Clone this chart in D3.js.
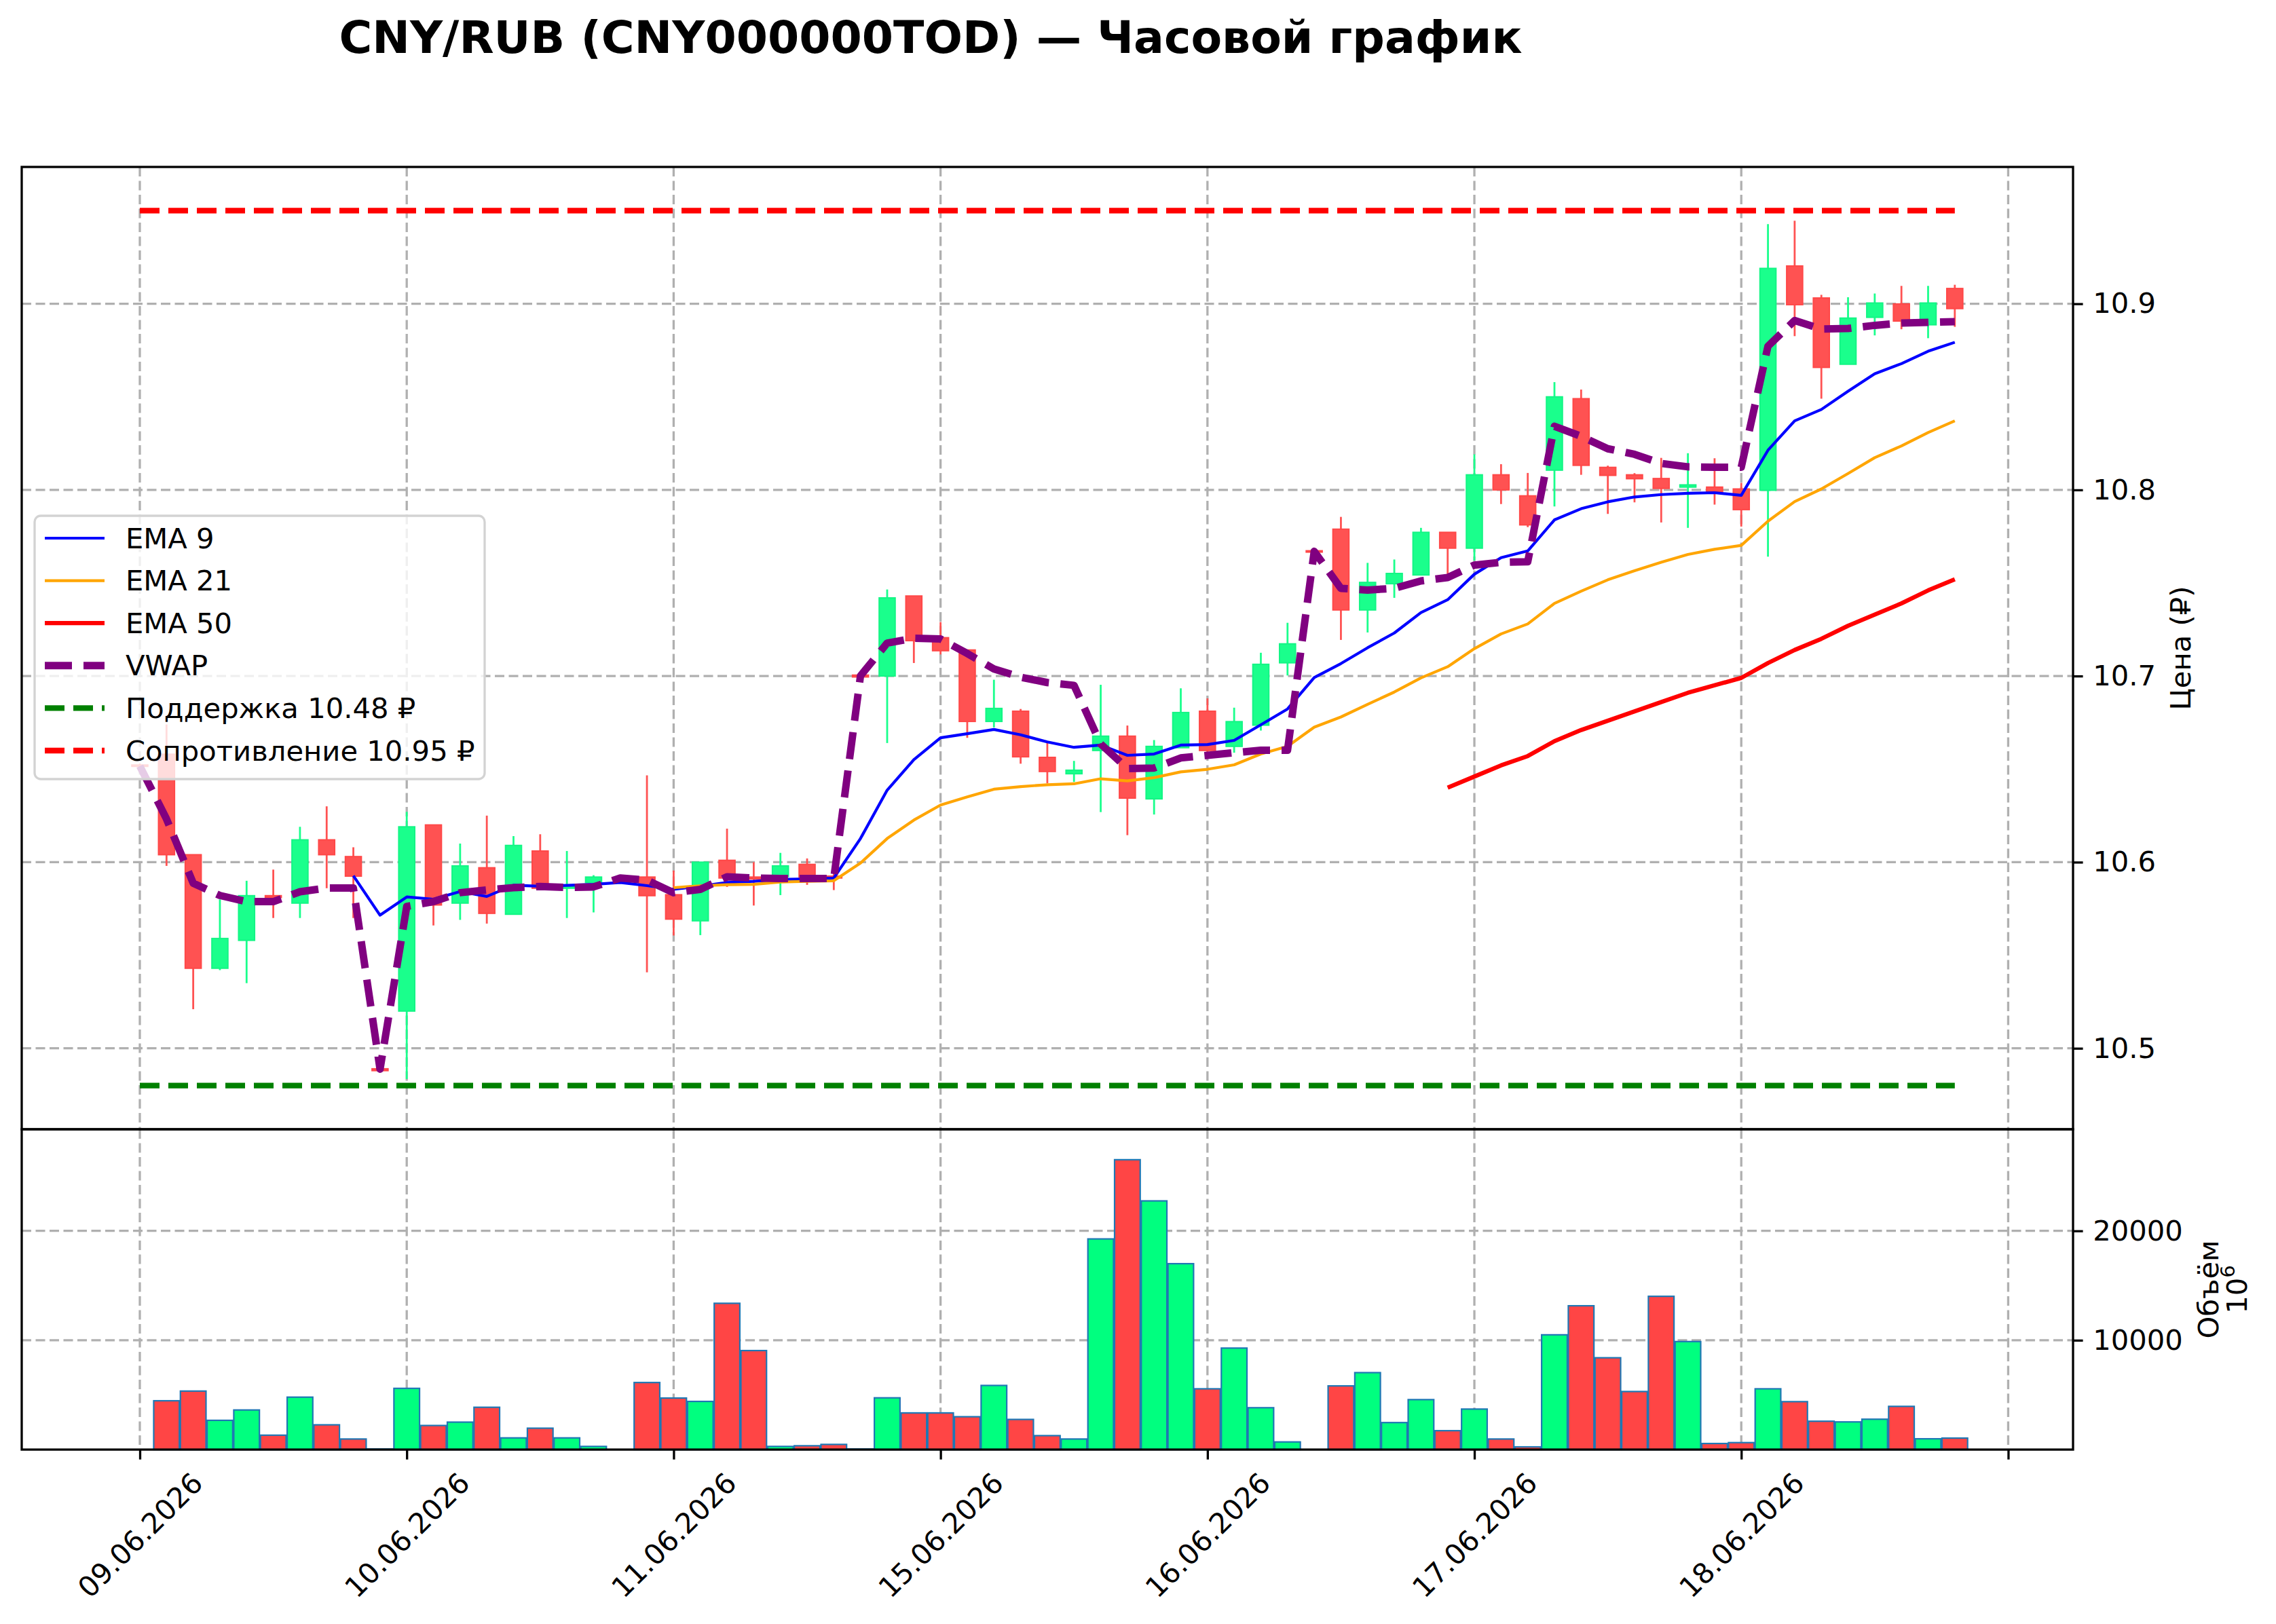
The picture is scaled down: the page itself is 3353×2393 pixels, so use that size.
<!DOCTYPE html>
<html>
<head>
<meta charset="utf-8">
<script src="https://cdn.jsdelivr.net/npm/d3@7"></script>
<style>
  body { margin: 0; background: #fff; }
  svg { display: block; font-family: "DejaVu Sans", sans-serif; }
</style>
</head>
<body>
<div id="chart"></div>
<script>
(function () {

  // hourly candles, index 0..68
  var opens = [10.6522, 10.658, 10.604, 10.543, 10.558, 10.582, 10.578, 10.612, 10.603, 10.489,
    10.520, 10.620, 10.578, 10.597, 10.572, 10.606, 10.586, 10.589, 10.5918, 10.592,
    10.5825, 10.5685, 10.601, 10.592, 10.5923, 10.5988, 10.5925, 10.7005, 10.700, 10.743,
    10.7206, 10.714, 10.6756, 10.6811, 10.6563, 10.6475, 10.660, 10.6677, 10.634, 10.6615,
    10.6811, 10.6622, 10.6736, 10.7071, 10.7673, 10.7789, 10.7355, 10.7496, 10.7543, 10.7772,
    10.7687, 10.8081, 10.7968, 10.8106, 10.849, 10.8121, 10.8081, 10.8061, 10.8015, 10.8015,
    10.8005, 10.7998, 10.9203, 10.9031, 10.8675, 10.8927, 10.8999, 10.8887, 10.9082]

  var highs = [10.653, 10.674, 10.604, 10.580, 10.590, 10.596, 10.619, 10.630, 10.608, 10.489,
    10.627, 10.620, 10.610, 10.625, 10.614, 10.615, 10.606, 10.593, 10.592, 10.6466,
    10.5955, 10.600, 10.618, 10.600, 10.605, 10.602, 10.602, 10.701, 10.7465, 10.743,
    10.729, 10.714, 10.698, 10.6823, 10.6643, 10.6544, 10.6953, 10.6734, 10.6656, 10.6934,
    10.688, 10.683, 10.7125, 10.7286, 10.768, 10.7855, 10.7608, 10.7626, 10.7796, 10.7772,
    10.8191, 10.8138, 10.8091, 10.8579, 10.8539, 10.813, 10.809, 10.8172, 10.8197, 10.817,
    10.8038, 10.9428, 10.9446, 10.9048, 10.9035, 10.9055, 10.9096, 10.9096, 10.9102]

  var lows = [10.651, 10.598, 10.521, 10.542, 10.535, 10.570, 10.570, 10.586, 10.570, 10.487,
    10.4835, 10.566, 10.569, 10.567, 10.572, 10.5857, 10.570, 10.573, 10.591, 10.5408,
    10.5606, 10.5608, 10.5867, 10.5767, 10.5823, 10.5878, 10.585, 10.699, 10.664, 10.707,
    10.7116, 10.6668, 10.6724, 10.6529, 10.6424, 10.6431, 10.6269, 10.6145, 10.6256, 10.6615,
    10.659, 10.6588, 10.6707, 10.7003, 10.766, 10.7194, 10.7234, 10.742, 10.754, 10.7547,
    10.762, 10.7924, 10.780, 10.7911, 10.8081, 10.7871, 10.7933, 10.7825, 10.7796, 10.7921,
    10.7803, 10.7641, 10.8826, 10.849, 10.8675, 10.883, 10.8863, 10.8815, 10.8876]

  var closes = [10.6518, 10.604, 10.543, 10.559, 10.582, 10.581, 10.612, 10.604, 10.5925, 10.488,
    10.619, 10.577, 10.598, 10.5725, 10.609, 10.586, 10.587, 10.592, 10.5912, 10.582,
    10.5694, 10.600, 10.5915, 10.591, 10.598, 10.592, 10.5915, 10.6995, 10.742, 10.719,
    10.7136, 10.6756, 10.6826, 10.6566, 10.6487, 10.6494, 10.6677, 10.6344, 10.6622, 10.6804,
    10.660, 10.6755, 10.7063, 10.7173, 10.7667, 10.7355, 10.7503, 10.7551, 10.7772, 10.7687,
    10.8081, 10.800, 10.7812, 10.850, 10.8132, 10.8078, 10.806, 10.8008, 10.8027, 10.799,
    10.7894, 10.919, 10.8995, 10.8658, 10.8923, 10.9004, 10.8907, 10.9004, 10.8974]

  // volume, millions
  var volumes = [0, 4466, 5351, 2675, 3622, 1317, 4795, 2264, 967, 60,
    5598, 2202, 2511, 3869, 1070, 1955, 1070, 288, 0, 6133,
    4713, 4404, 13377, 9055, 288, 350, 473, 60, 4733, 3354,
    3354, 3005, 5865, 2758, 1276, 967, 19263, 26507, 22741, 17000,
    5557, 9282, 3828, 700, 0, 5824, 7038, 2470, 4569, 1729,
    3704, 967, 247, 10496, 13151, 8397, 5310, 14015, 9878, 556,
    638, 5557, 4384, 2593, 2531, 2778, 3951, 988, 1050]

  var vwap = [10.6516, 10.6232, 10.5887, 10.5821, 10.5788, 10.5788, 10.5841, 10.5861, 10.5861, 10.4888,
    10.5762, 10.5788, 10.5836, 10.5851, 10.5863, 10.5869, 10.5864, 10.5867, 10.5915, 10.5903,
    10.5836, 10.5854, 10.5921, 10.5915, 10.5912, 10.5912, 10.5912, 10.7001, 10.7177, 10.7203,
    10.7199, 10.7121, 10.7038, 10.6994, 10.6965, 10.695, 10.6635, 10.6503, 10.6506, 10.656,
    10.6574, 10.6588, 10.6601, 10.6601, 10.767, 10.7471, 10.7462, 10.7471, 10.7511, 10.7529,
    10.7596, 10.7611, 10.7614, 10.8342, 10.8288, 10.8221, 10.8191, 10.8142, 10.8124, 10.8122,
    10.8122, 10.8772, 10.891, 10.8864, 10.8867, 10.8884, 10.8896, 10.89, 10.8904]

  // EMA 9 starts at index 8
  var ema9Start = 8
  var ema9 = [10.5927, 10.5715, 10.5813, 10.5801, 10.5842, 10.5816, 10.5876, 10.5871, 10.5875, 10.5881,
    10.5891, 10.5874, 10.5854, 10.5871, 10.5891, 10.5897, 10.5907, 10.591, 10.5915, 10.6127,
    10.6387, 10.6551, 10.6668, 10.669, 10.6713, 10.6684, 10.6646, 10.6617, 10.6629, 10.6574,
    10.6581, 10.6629, 10.6632, 10.6654, 10.6738, 10.6823, 10.6992, 10.7067, 10.7152, 10.7231,
    10.7341, 10.741, 10.7547, 10.7636, 10.7672, 10.7839, 10.7899, 10.7936, 10.7962, 10.7975,
    10.7982, 10.7985, 10.7971, 10.8213, 10.8371, 10.8432, 10.853, 10.8624, 10.8678, 10.8745,
    10.8793]

  // EMA 21 starts at index 20
  var ema21Start = 20
  var ema21 = [10.5863, 10.5873, 10.5879, 10.5881, 10.5893, 10.5897, 10.590, 10.5995, 10.6127, 10.6226,
    10.6307, 10.6351, 10.6392, 10.6406, 10.6416, 10.6421, 10.6448, 10.6437, 10.6454, 10.6485,
    10.6499, 10.6523, 10.6581, 10.6622, 10.6725, 10.678, 10.6848, 10.6914, 10.699, 10.705,
    10.7147, 10.7226, 10.728, 10.739, 10.7456, 10.7517, 10.7566, 10.7611, 10.7653, 10.7681,
    10.7702, 10.7832, 10.7937, 10.8005, 10.8088, 10.8173, 10.8236, 10.8308, 10.8371]

  // EMA 50 starts at index 49
  var ema50Start = 49
  var ema50 = [10.640, 10.646, 10.652, 10.657, 10.665, 10.671, 10.676, 10.681, 10.686, 10.691,
    10.695, 10.699, 10.707, 10.714, 10.720, 10.727, 10.733, 10.739, 10.746, 10.752]

  var support = 10.48
  var resistance = 10.95

  var xTickPos = [0, 10, 20, 30, 40, 50, 60, 70]
  var xTickLabels = ["09.06.2026", "10.06.2026", "11.06.2026", "15.06.2026",
    "16.06.2026", "17.06.2026", "18.06.2026", ""]
  var priceTicks = [10.5, 10.6, 10.7, 10.8, 10.9]
  var volumeTicks = [10000, 20000]

  // layout in pixels (figure is 3353 x 2393)
  var W = 3353, H = 2393
  var left = 32, right = 3054
  var priceTop = 246, priceBottom = 1664
  var volTop = 1664, volBottom = 2136
  var fontSize = 41.7

  var svg = d3.select("#chart")
    .append("svg")
    .attr("width", W)
    .attr("height", H)

  svg.append("rect").attr("width", W).attr("height", H).attr("fill", "#fff")

  var xPositionScale = d3.scaleLinear()
    .domain([-4.425, 72.43])
    .range([left, right])

  // 5% padding around support / resistance
  var pad = (resistance - support) * 0.05
  var yPriceScale = d3.scaleLinear()
    .domain([support - pad, resistance + pad])
    .range([priceBottom, priceTop])

  // headroom above the tallest bar
  var yVolumeScale = d3.scaleLinear()
    .domain([0, d3.max(volumes) * 1.105])
    .range([volBottom, volTop])

  var step = xPositionScale(1) - xPositionScale(0)

  function isUp(i) { return closes[i] >= opens[i] }
  var greenCandle = "#1aff8c", redCandle = "#ff5252"
  var greenBar = "#00ff7f", redBar = "#ff4545"

  var gridStyle = function (sel) {
    sel.attr("stroke", "#b0b0b0")
      .attr("stroke-width", 3.3)
      .attr("stroke-dasharray", "14,6.5")
  }

  // ---------- grids ----------
  var grid = svg.append("g").attr("class", "grid")

  grid.selectAll(".vgrid-price")
    .data(xTickPos)
    .enter().append("line")
    .attr("x1", function (d) { return xPositionScale(d) })
    .attr("x2", function (d) { return xPositionScale(d) })
    .attr("y1", priceTop)
    .attr("y2", priceBottom)
    .call(gridStyle)

  grid.selectAll(".hgrid-price")
    .data(priceTicks)
    .enter().append("line")
    .attr("x1", left)
    .attr("x2", right)
    .attr("y1", function (d) { return yPriceScale(d) })
    .attr("y2", function (d) { return yPriceScale(d) })
    .call(gridStyle)

  grid.selectAll(".vgrid-vol")
    .data(xTickPos)
    .enter().append("line")
    .attr("x1", function (d) { return xPositionScale(d) })
    .attr("x2", function (d) { return xPositionScale(d) })
    .attr("y1", volTop)
    .attr("y2", volBottom)
    .call(gridStyle)

  grid.selectAll(".hgrid-vol")
    .data(volumeTicks)
    .enter().append("line")
    .attr("x1", left)
    .attr("x2", right)
    .attr("y1", function (d) { return yVolumeScale(d) })
    .attr("y2", function (d) { return yVolumeScale(d) })
    .call(gridStyle)

  // ---------- candles ----------
  var idx = d3.range(opens.length)
  var candles = svg.append("g").attr("class", "candles")

  candles.selectAll(".wick")
    .data(idx)
    .enter().append("line")
    .attr("class", "wick")
    .attr("x1", function (i) { return xPositionScale(i) })
    .attr("x2", function (i) { return xPositionScale(i) })
    .attr("y1", function (i) { return yPriceScale(highs[i]) })
    .attr("y2", function (i) { return yPriceScale(lows[i]) })
    .attr("stroke", function (i) { return isUp(i) ? greenCandle : redCandle })
    .attr("stroke-width", 2.8)

  candles.selectAll(".body")
    .data(idx)
    .enter().append("rect")
    .attr("class", "body")
    .attr("x", function (i) { return xPositionScale(i - 0.3) })
    .attr("width", step * 0.6)
    .attr("y", function (i) { return yPriceScale(Math.max(opens[i], closes[i])) })
    .attr("height", function (i) {
      return Math.max(2, Math.abs(yPriceScale(opens[i]) - yPriceScale(closes[i])))
    })
    .attr("fill", function (i) { return isUp(i) ? greenCandle : redCandle })
    .attr("stroke", function (i) { return isUp(i) ? "#14f585" : "#ff4848" })
    .attr("stroke-width", 2)

  // ---------- indicator lines ----------
  function drawLine(values, start, color, width, dash) {
    var line = d3.line()
      .x(function (d, k) { return xPositionScale(start + k) })
      .y(function (d) { return yPriceScale(d) })
    svg.append("path")
      .datum(values)
      .attr("d", line)
      .attr("fill", "none")
      .attr("stroke", color)
      .attr("stroke-width", width)
      .attr("stroke-linejoin", "round")
      .attr("stroke-dasharray", dash || null)
  }

  drawLine(ema9, ema9Start, "#0000ff", 4.2)
  drawLine(ema21, ema21Start, "#ffa500", 4.2)
  drawLine(ema50, ema50Start, "#ff0000", 6.25)
  drawLine(vwap, 0, "#800080", 11, "40,17")

  // support / resistance
  var levels = [
    { v: support, color: "#008000" },
    { v: resistance, color: "#ff0000" }
  ]
  svg.selectAll(".level")
    .data(levels)
    .enter().append("line")
    .attr("x1", xPositionScale(0))
    .attr("x2", xPositionScale(opens.length - 1))
    .attr("y1", function (d) { return yPriceScale(d.v) })
    .attr("y2", function (d) { return yPriceScale(d.v) })
    .attr("stroke", function (d) { return d.color })
    .attr("stroke-width", 8.3)
    .attr("stroke-dasharray", "29,13")

  // ---------- volume bars ----------
  svg.append("g").selectAll(".vol")
    .data(idx)
    .enter().append("rect")
    .attr("class", "vol")
    .attr("x", function (i) { return xPositionScale(i - 0.48) })
    .attr("width", step * 0.96)
    .attr("y", function (i) { return yVolumeScale(volumes[i]) })
    .attr("height", function (i) { return volBottom - yVolumeScale(volumes[i]) })
    .attr("fill", function (i) { return isUp(i) ? greenBar : redBar })
    .attr("stroke", "#1f77b4")
    .attr("stroke-width", 2.2)

  // ---------- frames ----------
  svg.append("rect")
    .attr("x", left).attr("y", priceTop)
    .attr("width", right - left).attr("height", priceBottom - priceTop)
    .attr("fill", "none").attr("stroke", "#000").attr("stroke-width", 3.3)
  svg.append("rect")
    .attr("x", left).attr("y", volTop)
    .attr("width", right - left).attr("height", volBottom - volTop)
    .attr("fill", "none").attr("stroke", "#000").attr("stroke-width", 3.3)

  // ---------- axes ----------
  var priceAxis = d3.axisRight(yPriceScale)
    .tickValues(priceTicks)
    .tickFormat(d3.format(".1f"))
    .tickSize(14.6)
    .tickSizeOuter(0)
    .tickPadding(14.6)
  svg.append("g")
    .attr("class", "axis")
    .attr("transform", "translate(" + right + ",0)")
    .call(priceAxis)

  var volumeAxis = d3.axisRight(yVolumeScale)
    .tickValues(volumeTicks)
    .tickFormat(d3.format("d"))
    .tickSize(14.6)
    .tickSizeOuter(0)
    .tickPadding(14.6)
  svg.append("g")
    .attr("class", "axis")
    .attr("transform", "translate(" + right + ",0)")
    .call(volumeAxis)

  var xAxis = d3.axisBottom(xPositionScale)
    .tickValues(xTickPos)
    .tickFormat(function (d, k) { return xTickLabels[k] })
    .tickSize(14.6)
    .tickSizeOuter(0)
  var xg = svg.append("g")
    .attr("class", "axis x-axis")
    .attr("transform", "translate(0," + volBottom + ")")
    .call(xAxis)

  // rotated date labels, centred under each tick
  xg.selectAll("text")
    .attr("x", 0)
    .attr("y", 126)
    .attr("dy", "0.35em")
    .attr("text-anchor", "middle")
    .attr("transform", "rotate(-45,0,126)")

  svg.selectAll(".axis .domain").remove()
  svg.selectAll(".axis line").attr("stroke", "#000").attr("stroke-width", 3.3)
  svg.selectAll(".axis text")
    .attr("fill", "#000")
    .style("font-size", fontSize + "px")
    .style("font-family", "DejaVu Sans")

  // ---------- labels ----------
  svg.append("text")
    .attr("x", 1371)
    .attr("y", 78)
    .attr("text-anchor", "middle")
    .style("font-size", "66.5px")
    .style("font-weight", "bold")
    .text("CNY/RUB (CNY000000TOD) — Часовой график")

  svg.append("text")
    .attr("transform", "translate(3212," + (priceTop + priceBottom) / 2 + ") rotate(-90)")
    .attr("text-anchor", "middle")
    .attr("dominant-baseline", "central")
    .style("font-size", fontSize + "px")
    .text("Цена (₽)")

  var volMid = (volTop + volBottom) / 2
  svg.append("text")
    .attr("transform", "translate(3253," + volMid + ") rotate(-90)")
    .attr("text-anchor", "middle")
    .attr("dominant-baseline", "central")
    .style("font-size", fontSize + "px")
    .text("Объём")

  var tenSix = svg.append("text")
    .attr("transform", "translate(3295," + volMid + ") rotate(-90)")
    .attr("text-anchor", "middle")
    .attr("dominant-baseline", "central")
    .style("font-size", fontSize + "px")
  tenSix.append("tspan").text("10")
  tenSix.append("tspan")
    .attr("dy", "-0.45em")
    .style("font-size", (fontSize * 0.7) + "px")
    .text("6")

  // ---------- legend ----------
  var legendItems = [
    { label: "EMA 9", color: "#0000ff", width: 4.2, dash: null },
    { label: "EMA 21", color: "#ffa500", width: 4.2, dash: null },
    { label: "EMA 50", color: "#ff0000", width: 6.25, dash: null },
    { label: "VWAP", color: "#800080", width: 11, dash: "40,17" },
    { label: "Поддержка 10.48 ₽", color: "#008000", width: 8.3, dash: "29,13" },
    { label: "Сопротивление 10.95 ₽", color: "#ff0000", width: 8.3, dash: "29,13" }
  ]

  var legend = svg.append("g").attr("class", "legend")
  legend.append("rect")
    .attr("x", 51).attr("y", 760)
    .attr("width", 663).attr("height", 388)
    .attr("rx", 9).attr("ry", 9)
    .attr("fill", "#fff")
    .attr("fill-opacity", 0.8)
    .attr("stroke", "#d3d3d3")
    .attr("stroke-width", 3.3)

  var rows = legend.selectAll(".row")
    .data(legendItems)
    .enter().append("g")
    .attr("transform", function (d, k) { return "translate(0," + (793 + k * 62.6) + ")" })

  rows.append("line")
    .attr("x1", 66).attr("x2", 154)
    .attr("stroke", function (d) { return d.color })
    .attr("stroke-width", function (d) { return d.width })
    .attr("stroke-dasharray", function (d) { return d.dash })

  rows.append("text")
    .attr("x", 185)
    .attr("dominant-baseline", "central")
    .style("font-size", fontSize + "px")
    .text(function (d) { return d.label })

})()
</script>
</body>
</html>
